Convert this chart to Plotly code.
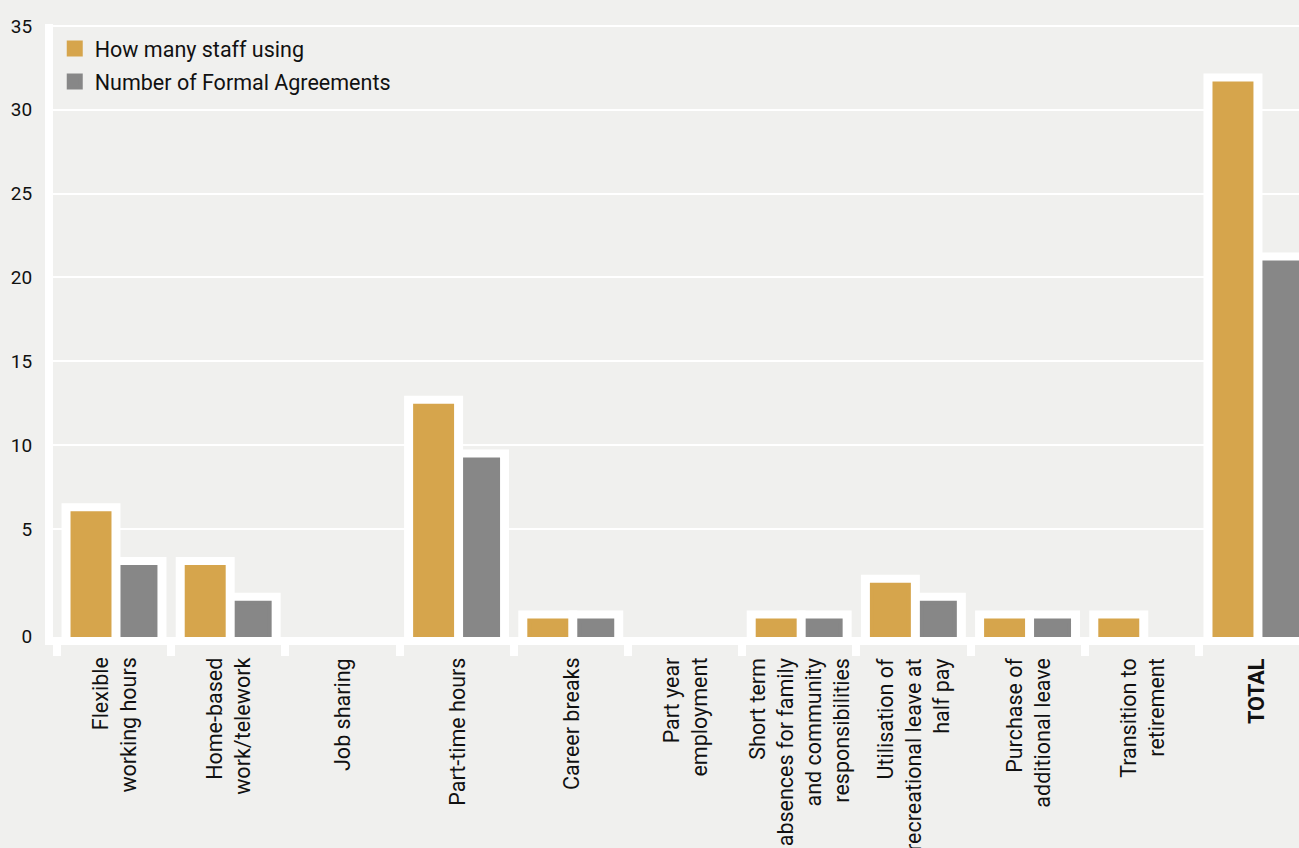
import plotly.graph_objects as go

# ---- data ----
categories = [
    "Flexible<br>working hours",
    "Home-based<br>work/telework",
    "Job sharing",
    "Part-time hours",
    "Career breaks",
    "Part year<br>employment",
    "Short term<br>absences for family<br>and community<br>responsibilities",
    "Utilisation of<br>recreational leave at<br>half pay",
    "Purchase of<br>additional leave",
    "Transition to<br>retirement",
    "<b>TOTAL</b>",
]
staff_using = [7, 4, 0, 13, 1, 0, 1, 3, 1, 1, 31]
formal_agreements = [4, 2, 0, 10, 1, 0, 1, 2, 1, 0, 21]
series_names = ["How many staff using", "Number of Formal Agreements"]
y_tick_labels = [0, 5, 10, 15, 20, 25, 30, 35]

# ---- style ----
GOLD = "#D6A54C"
GREY = "#878787"
BG = "#F0F0EE"
TEXT = "#111111"
FONT = "Roboto"

W, H = 1299, 848
PLOT_TOP, PLOT_BOTTOM, PLOT_LEFT = 24, 637, 53
Y_MIN, Y_MAX = 0.084, 34.33
X_MIN, X_MAX = -0.535, 10.376

# tick label placement as drawn in the original (grid spacing differs from bar scale)
GRID_FIRST = 6.117   # position of the "5" gridline in bar units
GRID_STEP = 4.684    # bar units between successive labelled gridlines
tick_positions = [Y_MIN + 0.01 if v == 0 else GRID_FIRST + (v - 5) / 5 * GRID_STEP
                  for v in y_tick_labels]

# (name, values, colour, bar offset, bar width, halo offset, halo width)
bar_specs = [
    (series_names[0], staff_using, GOLD, -0.364, 0.3237, -0.3728, 0.3412),
    (series_names[1], formal_agreements, GREY, 0.0735, 0.2887, 0.0647, 0.3062),
]

fig = go.Figure()
# white halos behind bars (no halo for empty bars)
for name, vals, color, off, wd, hoff, hwd in bar_specs:
    fig.add_trace(go.Bar(
        x=categories, y=[v if v else None for v in vals], offset=hoff, width=hwd,
        marker=dict(color="white", line=dict(color="white", width=20)),
        showlegend=False, hoverinfo="skip",
    ))
# coloured bars
for i, (name, vals, color, off, wd, hoff, hwd) in enumerate(bar_specs):
    fig.add_trace(go.Bar(
        x=categories, y=[v if v else None for v in vals], offset=off, width=wd, name=name,
        marker=dict(color=color, line=dict(color=color, width=4)),
        legendgroup=f"g{i}",
    ))

# category labels: vertical, lines aligned towards the axis
for cat in categories:
    fig.add_annotation(
        x=cat, y=0, xref="x", yref="paper",
        xanchor="center", yanchor="top", yshift=-19,
        text=cat, textangle=-90, align="right", showarrow=False,
        font=dict(size=21.5, color=TEXT, family=FONT),
    )

fig.update_layout(
    width=W, height=H,
    barmode="overlay",
    paper_bgcolor=BG, plot_bgcolor=BG,
    font=dict(family=FONT, color=TEXT, size=21),
    margin=dict(l=PLOT_LEFT, r=0, t=PLOT_TOP, b=H - PLOT_BOTTOM, pad=0),
    showlegend=True,
    legend=dict(
        x=0.0014, y=0.9935, xanchor="left", yanchor="top",
        bgcolor="rgba(0,0,0,0)", font=dict(size=21.5, color=TEXT, family=FONT),
        tracegroupgap=2, traceorder="grouped",
    ),
    xaxis=dict(
        type="category", range=[X_MIN, X_MAX],
        showline=True, linecolor="white", linewidth=8,
        ticks="outside", tickson="boundaries", ticklen=11, tickwidth=8, tickcolor="white",
        showticklabels=False,
        showgrid=False, zeroline=False,
    ),
    yaxis=dict(
        range=[Y_MIN, Y_MAX],
        showline=True, linecolor="white", linewidth=8,
        showgrid=True, gridcolor="white", gridwidth=2,
        zeroline=False, ticks="",
        tickvals=tick_positions, ticktext=[str(v) for v in y_tick_labels],
        tickfont=dict(size=19, color=TEXT, family=FONT),
        ticklabelstandoff=9,
    ),
)

fig.write_html(
    "out.html",
    config={"displayModeBar": False},
    post_script="document.body.style.margin='0';document.body.style.overflow='hidden';",
)
